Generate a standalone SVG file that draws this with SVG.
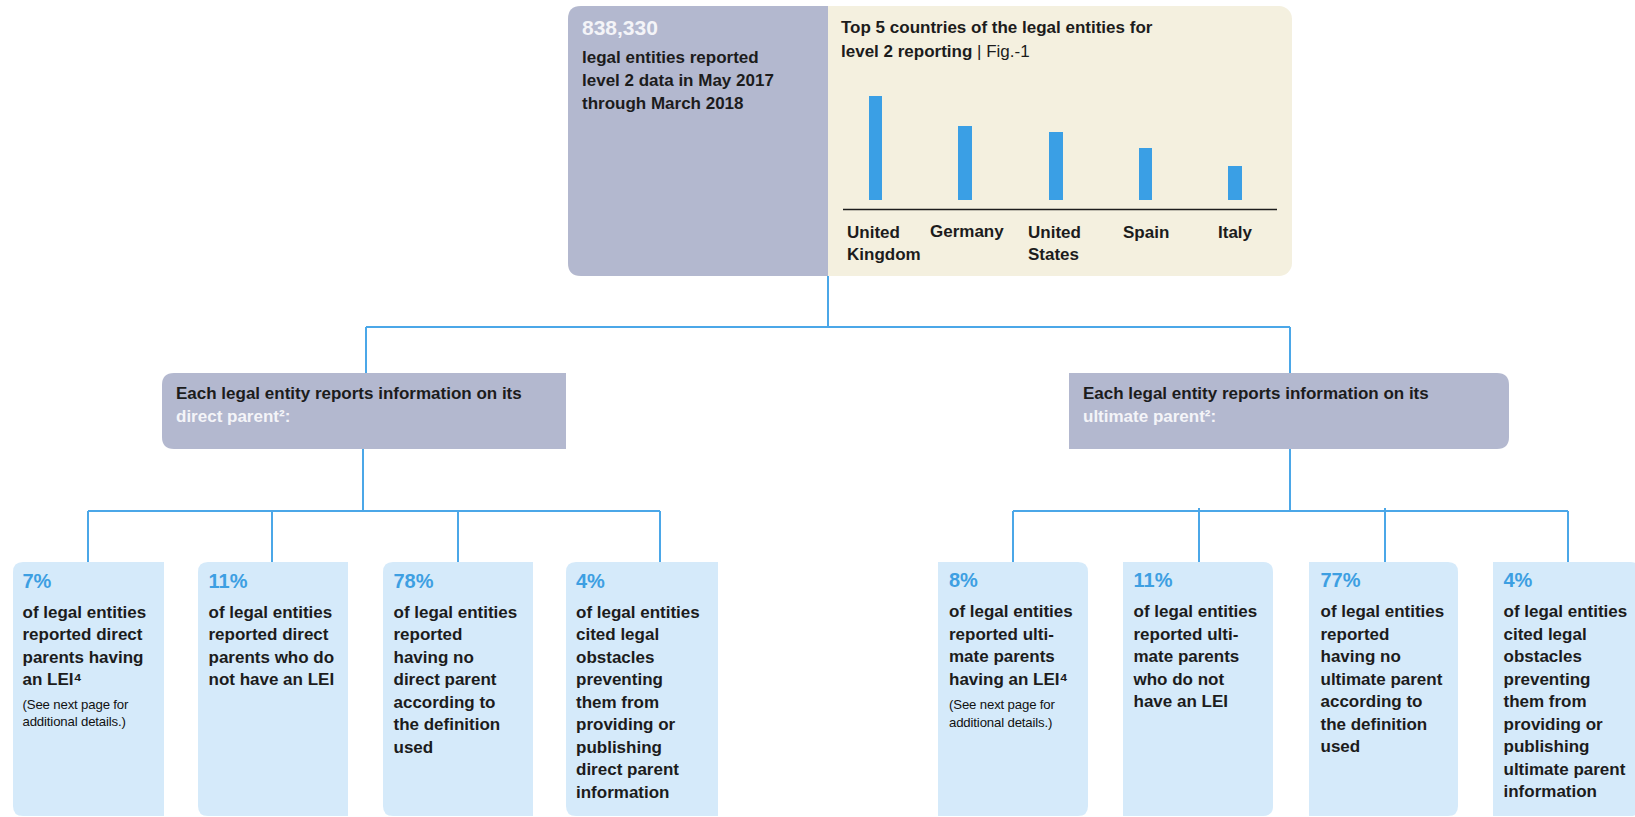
<svg xmlns="http://www.w3.org/2000/svg" width="1635" height="817" viewBox="0 0 1635 817">
<style>
.t{font-family:"Liberation Sans",Arial,sans-serif;font-weight:bold;font-size:17px;fill:#1c1c1c}
.pct{font-size:20px;fill:#3d9fe2}
.big{font-size:21px;fill:#f4f4f8}
.w{fill:#f4f4f8}
.reg{font-weight:normal}
.small{font-size:13.2px;font-weight:normal;letter-spacing:-0.15px;fill:#111111}
.conn{stroke:#4ba7e8;stroke-width:2;fill:none}
.gray{fill:#b3b8cf}
.beige{fill:#f4f0df}
.blue{fill:#d5eafa}
.bar{fill:#3a9fe5}
</style>
<rect width="1635" height="817" fill="#ffffff"/>
<g id="connectors">
<path class="conn" d="M828,276 V327 M366,327 H1290 M366,327 V373 M1290,327 V373"/>
<path class="conn" d="M363,449 V511 M88,511 H660 M88,511 V562 M272,511 V562 M458,511 V562 M660,511 V562"/>
<path class="conn" d="M1290,449 V511 M1013,511 H1568 M1013,511 V562 M1199,508 V562 M1385,508 V562 M1568,511 V562"/>
</g>
<g id="summary">
<rect class="beige" x="568" y="6" width="724" height="270" rx="13"/>
<path class="gray" d="M828,6 H581 Q568,6 568,19 V263 Q568,276 581,276 H828 Z"/>
<text class="t big" x="582" y="35">838,330</text>
<text class="t" x="582" y="63">legal entities reported</text>
<text class="t" x="582" y="86">level 2 data in May 2017</text>
<text class="t" x="582" y="109">through March 2018</text>
</g>
<g id="chart">
<text class="t" x="841" y="33">Top 5 countries of the legal entities for</text>
<text class="t" x="841" y="57">level 2 reporting <tspan class="reg"> |  Fig.-1</tspan></text>
<rect class="bar" x="869" y="96" width="13" height="104"/>
<rect class="bar" x="958" y="126" width="14" height="74"/>
<rect class="bar" x="1049" y="132" width="14" height="68"/>
<rect class="bar" x="1139" y="148" width="13" height="52"/>
<rect class="bar" x="1228" y="166" width="14" height="34"/>
<line x1="843" y1="209.5" x2="1277" y2="209.5" stroke="#1c1c1c" stroke-width="1.6"/>
<text class="t" x="847" y="238">United</text>
<text class="t" x="847" y="260">Kingdom</text>
<text class="t" x="930" y="236.5">Germany</text>
<text class="t" x="1028" y="238">United</text>
<text class="t" x="1028" y="260">States</text>
<text class="t" x="1123" y="238">Spain</text>
<text class="t" x="1218" y="238">Italy</text>
</g>
<g id="direct-parent">
<path class="gray" d="M566,373 H174 Q162,373 162,385 V437 Q162,449 174,449 H566 Z"/>
<text class="t" x="176" y="399">Each legal entity reports information on its</text>
<text class="t w" x="176" y="421.5">direct parent²:</text>
</g>
<g id="ultimate-parent">
<path class="gray" d="M1069,373 H1497 Q1509,373 1509,385 V437 Q1509,449 1497,449 H1069 Z"/>
<text class="t" x="1083" y="399">Each legal entity reports information on its</text>
<text class="t w" x="1083" y="421.5">ultimate parent²:</text>
</g>
<g id="dp-lei">
<path class="blue" d="M164,562 H23 Q13,562 13,572 V806 Q13,816 23,816 H164 Z"/>
<text class="t pct" x="22.5" y="588">7%</text>
<text class="t" x="22.5" y="617.5">of legal entities</text>
<text class="t" x="22.5" y="640">reported direct</text>
<text class="t" x="22.5" y="662.5">parents having</text>
<text class="t" x="22.5" y="685">an LEI⁴</text>
<text class="t small" x="22.5" y="709">(See next page for</text>
<text class="t small" x="22.5" y="726">additional details.)</text>
</g>
<g id="dp-nolei">
<path class="blue" d="M348,562 H208 Q198,562 198,572 V806 Q198,816 208,816 H348 Z"/>
<text class="t pct" x="208.5" y="588">11%</text>
<text class="t" x="208.5" y="617.5">of legal entities</text>
<text class="t" x="208.5" y="640">reported direct</text>
<text class="t" x="208.5" y="662.5">parents who do</text>
<text class="t" x="208.5" y="685">not have an LEI</text>
</g>
<g id="dp-none">
<path class="blue" d="M533,562 H393 Q383,562 383,572 V806 Q383,816 393,816 H533 Z"/>
<text class="t pct" x="393.5" y="588">78%</text>
<text class="t" x="393.5" y="617.5">of legal entities</text>
<text class="t" x="393.5" y="640">reported</text>
<text class="t" x="393.5" y="662.5">having no</text>
<text class="t" x="393.5" y="685">direct parent</text>
<text class="t" x="393.5" y="707.5">according to</text>
<text class="t" x="393.5" y="730">the definition</text>
<text class="t" x="393.5" y="752.5">used</text>
</g>
<g id="dp-obstacles">
<path class="blue" d="M718,562 H576 Q566,562 566,572 V806 Q566,816 576,816 H718 Z"/>
<text class="t pct" x="576" y="588">4%</text>
<text class="t" x="576" y="617.5">of legal entities</text>
<text class="t" x="576" y="640">cited legal</text>
<text class="t" x="576" y="662.5">obstacles</text>
<text class="t" x="576" y="685">preventing</text>
<text class="t" x="576" y="707.5">them from</text>
<text class="t" x="576" y="730">providing or</text>
<text class="t" x="576" y="752.5">publishing</text>
<text class="t" x="576" y="775">direct parent</text>
<text class="t" x="576" y="797.5">information</text>
</g>
<g id="up-lei">
<path class="blue" d="M938,562 H1078 Q1088,562 1088,572 V806 Q1088,816 1078,816 H938 Z"/>
<text class="t pct" x="949" y="586.5">8%</text>
<text class="t" x="949" y="617">of legal entities</text>
<text class="t" x="949" y="639.5">reported ulti-</text>
<text class="t" x="949" y="662">mate parents</text>
<text class="t" x="949" y="684.5">having an LEI⁴</text>
<text class="t small" x="949" y="708.5">(See next page for</text>
<text class="t small" x="949" y="726.5">additional details.)</text>
</g>
<g id="up-nolei">
<path class="blue" d="M1123,562 H1263 Q1273,562 1273,572 V806 Q1273,816 1263,816 H1123 Z"/>
<text class="t pct" x="1133.5" y="586.5">11%</text>
<text class="t" x="1133.5" y="617">of legal entities</text>
<text class="t" x="1133.5" y="639.5">reported ulti-</text>
<text class="t" x="1133.5" y="662">mate parents</text>
<text class="t" x="1133.5" y="684.5">who do not</text>
<text class="t" x="1133.5" y="707">have an LEI</text>
</g>
<g id="up-none">
<path class="blue" d="M1309,562 H1448 Q1458,562 1458,572 V806 Q1458,816 1448,816 H1309 Z"/>
<text class="t pct" x="1320.5" y="586.5">77%</text>
<text class="t" x="1320.5" y="617">of legal entities</text>
<text class="t" x="1320.5" y="639.5">reported</text>
<text class="t" x="1320.5" y="662">having no</text>
<text class="t" x="1320.5" y="684.5">ultimate parent</text>
<text class="t" x="1320.5" y="707">according to</text>
<text class="t" x="1320.5" y="729.5">the definition</text>
<text class="t" x="1320.5" y="752">used</text>
</g>
<g id="up-obstacles">
<path class="blue" d="M1493,562 H1630 Q1640,562 1640,572 V806 Q1640,816 1630,816 H1493 Z"/>
<text class="t pct" x="1503.5" y="586.5">4%</text>
<text class="t" x="1503.5" y="617">of legal entities</text>
<text class="t" x="1503.5" y="639.5">cited legal</text>
<text class="t" x="1503.5" y="662">obstacles</text>
<text class="t" x="1503.5" y="684.5">preventing</text>
<text class="t" x="1503.5" y="707">them from</text>
<text class="t" x="1503.5" y="729.5">providing or</text>
<text class="t" x="1503.5" y="752">publishing</text>
<text class="t" x="1503.5" y="774.5">ultimate parent</text>
<text class="t" x="1503.5" y="797">information</text>
</g>
</svg>
